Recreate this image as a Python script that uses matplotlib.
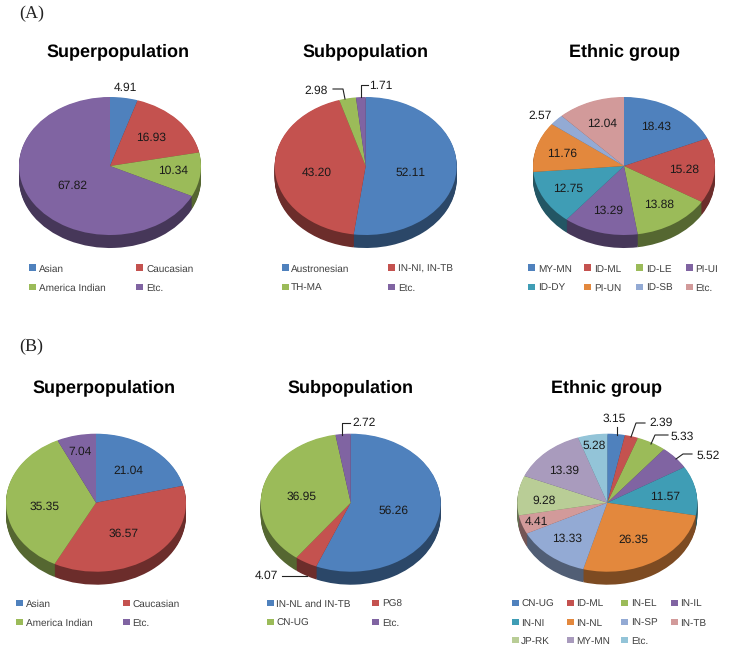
import numpy as np
import matplotlib
matplotlib.use("Agg")
import matplotlib.pyplot as plt
from matplotlib.colors import to_rgb
from matplotlib.lines import Line2D
from matplotlib.patches import Rectangle

W, H = 735, 652
plt.rcParams['font.family'] = ['Liberation Sans', 'DejaVu Sans']
plt.rcParams['text.hinting'] = 'no_hinting'
plt.rcParams['text.hinting_factor'] = 1

# Data
a_super = [4.91, 16.93, 10.34, 67.82]
a_sub = [52.11, 43.20, 2.98, 1.71]
a_ethnic = [18.43, 15.28, 13.88, 13.29, 12.75, 11.76, 2.57, 12.04]
b_super = [21.04, 36.57, 35.35, 7.04]
b_sub = [56.26, 4.07, 36.95, 2.72]
b_ethnic = [3.15, 2.39, 5.33, 5.52, 11.57, 26.35, 13.33, 4.41, 9.28, 13.39, 5.28]

a_super_names = ['Asian', 'Caucasian', 'America Indian', 'Etc.']
a_sub_names = ['Austronesian', 'IN-NI, IN-TB', 'TH-MA', 'Etc.']
a_ethnic_names = ['MY-MN', 'ID-ML', 'ID-LE', 'PI-UI', 'ID-DY', 'PI-UN', 'ID-SB', 'Etc.']
b_super_names = ['Asian', 'Caucasian', 'America Indian', 'Etc.']
b_sub_names = ['IN-NL and IN-TB', 'PG8', 'CN-UG', 'Etc.']
b_ethnic_names = ['CN-UG', 'ID-ML', 'IN-EL', 'IN-IL', 'IN-NI', 'IN-NL', 'IN-SP', 'IN-TB',
                  'JP-RK', 'MY-MN', 'Etc.']

colors = ['#4f81bd', '#c4524f', '#9bbb59', '#8064a2', '#3f9db5', '#e3883d',
          '#93aad4', '#d29a9a', '#b9cd96', '#a99bbd', '#93c4d8']


def px(x, y):
    return x / W, 1 - y / H


def pie3d(fig, values, cx, cy, rx=91, ry=69, depth=13):
    # squashed pie with stacked dark copies underneath for the side wall
    xr, yr = 1.3, 1.5
    ax = fig.add_axes([(cx - xr * rx) / W, 1 - (cy + yr * ry) / H,
                       2 * xr * rx / W, 2 * yr * ry / H])
    cols = colors[:len(values)]
    dark = [tuple(c * 0.55 for c in to_rgb(col)) for col in cols]
    d = depth / ry
    for off in np.linspace(d, 0.01, 14):
        ax.pie(values, colors=dark, startangle=90, counterclock=False, center=(0, -off),
               wedgeprops={'linewidth': 0.4, 'edgecolor': 'none'})
    ax.pie(values, colors=cols, startangle=90, counterclock=False,
           wedgeprops={'linewidth': 0})
    ax.set_aspect('auto')
    ax.set_xlim(-xr, xr)
    ax.set_ylim(-yr, yr)
    ax.axis('off')


def value_labels(fig, values, positions):
    for v, (x, y) in zip(values, positions):
        fx, fy = px(x, y)
        fig.text(fx, fy, '%.2f' % v, ha='center', va='center', fontsize=8.6, color='#1a1a1a')


def legend(fig, names, xs_box, xs_text, rows):
    n = len(xs_box)
    for i, name in enumerate(names):
        row, col = i // n, i % n
        x, y = xs_box[col], rows[row]
        fig.add_artist(Rectangle(px(x, y + 3), 6.5 / W, 6.5 / H, transform=fig.transFigure,
                                 facecolor=colors[i], edgecolor='none'))
        fx, fy = px(xs_text[col], y + 3.5)
        fig.text(fx, fy, name, ha='left', va='baseline', fontsize=7.4, color='#404040')


def leader(fig, pts):
    xy = [px(x, y) for x, y in pts]
    fig.add_artist(Line2D([p[0] for p in xy], [p[1] for p in xy], color='#222222', lw=0.8,
                          transform=fig.transFigure))


fig = plt.figure(figsize=(W / 100, H / 100), dpi=100, facecolor='white')

for txt, y in [('(A)', 14), ('(B)', 347)]:
    fx, fy = px(19, y)
    fig.text(fx, fy, txt, family=['Liberation Serif'], fontsize=13, ha='left', va='center',
             color='#222222')

titles = [('Superpopulation', 118, 52), ('Subpopulation', 365, 52), ('Ethnic group', 625, 52),
          ('Superpopulation', 104, 388), ('Subpopulation', 350, 388), ('Ethnic group', 607, 388)]
for txt, x, y in titles:
    fx, fy = px(x, y)
    fig.text(fx, fy, txt, fontsize=13, fontweight='bold', ha='center', va='center', color='black')

# Panel A
pie3d(fig, a_super, 110, 166)
pie3d(fig, a_sub, 365.7, 166)
pie3d(fig, a_ethnic, 624, 166)
value_labels(fig, a_super, [(125, 88), (151, 138), (173, 171), (72, 186)])
value_labels(fig, a_sub, [(411, 173), (317, 173), (316, 91), (381, 86)])
value_labels(fig, a_ethnic, [(656, 127), (684, 170), (659, 205), (608, 211),
                             (568, 189), (562, 154), (540, 116), (602, 124)])
legend(fig, a_super_names, [29, 136], [39, 146], [268, 287])
legend(fig, a_sub_names, [282, 388], [291, 398], [268, 287])
legend(fig, a_ethnic_names, [528, 584, 636, 686], [538, 594, 646, 695], [268, 287])
leader(fig, [(333, 89), (343, 89), (345, 99)])
leader(fig, [(368, 85), (361, 85), (361, 97)])

# Panel B
pie3d(fig, b_super, 96, 502.7, rx=90)
pie3d(fig, b_sub, 350.7, 502.7, rx=90)
pie3d(fig, b_ethnic, 607.3, 502.7, rx=90)
value_labels(fig, b_super, [(128, 471), (124, 534), (45, 507), (80, 452)])
value_labels(fig, b_sub, [(394, 511), (266, 576), (302, 497), (364, 423)])
value_labels(fig, b_ethnic, [(614, 419), (661, 423), (682, 437), (708, 456), (665, 497), (633, 540),
                             (567, 539), (536, 522), (544, 501), (564, 471), (594, 446)])
legend(fig, b_super_names, [16, 123], [26, 132], [603, 622])
legend(fig, b_sub_names, [267, 372], [276, 382], [603, 622])
legend(fig, b_ethnic_names, [512, 567, 621, 671], [521, 576, 631, 680], [603, 622, 640])
leader(fig, [(350, 423), (342, 423), (342, 435)])
leader(fig, [(282, 576), (307, 576)])
leader(fig, [(617, 427), (617, 435)])
leader(fig, [(645, 423), (636, 423), (631, 437)])
leader(fig, [(668, 435), (655, 435), (651, 444)])
leader(fig, [(692, 454), (683, 454), (676, 459)])

fig.savefig('out.png', dpi=100)
